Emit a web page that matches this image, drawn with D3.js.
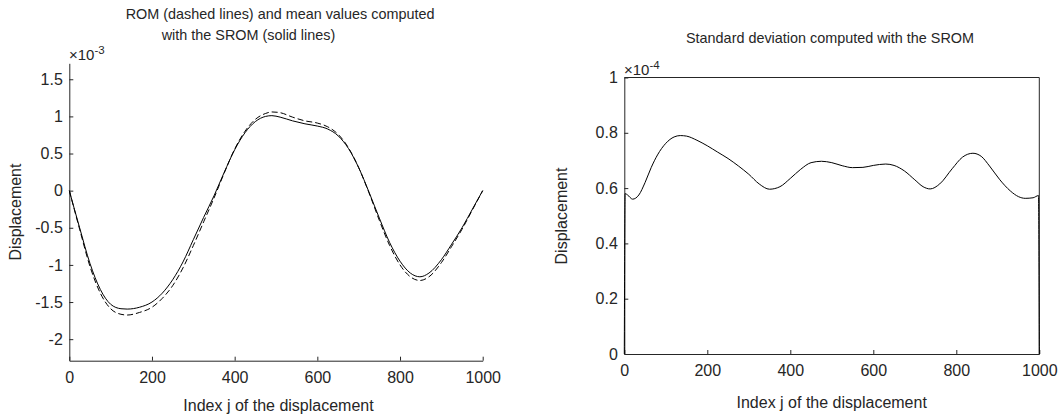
<!DOCTYPE html>
<html><head><meta charset="utf-8">
<script src="https://cdn.jsdelivr.net/npm/d3@7"></script>
<style>
body{margin:0;background:#fff;}
text{font-family:Arial,"Liberation Sans",sans-serif;fill:#262626;}
</style></head>
<body><svg id="c" width="1061" height="415"></svg>
<script>
// ---- data (values in units of 1e-3 for left, 1e-4 for right) ----
const idxMean = [0,25,50,75,100,125,140,170,200,225,250,275,300,325,350,375,400,425,450,475,490,510,540,570,600,625,650,675,700,725,750,775,800,825,848,870,900,925,950,975,1000];
const meanVals = [0,-0.50,-0.98,-1.33,-1.53,-1.59,-1.595,-1.57,-1.50,-1.38,-1.20,-0.96,-0.66,-0.36,-0.07,0.25,0.55,0.78,0.93,1.00,1.01,0.99,0.94,0.90,0.87,0.83,0.74,0.57,0.31,-0.02,-0.37,-0.70,-0.95,-1.11,-1.16,-1.11,-0.93,-0.72,-0.50,-0.25,0];
const romVals  = [0,-0.52,-1.02,-1.38,-1.59,-1.665,-1.675,-1.64,-1.57,-1.45,-1.28,-1.04,-0.74,-0.42,-0.10,0.24,0.56,0.80,0.96,1.04,1.06,1.05,0.99,0.94,0.91,0.86,0.76,0.58,0.31,-0.03,-0.40,-0.74,-1.00,-1.16,-1.21,-1.16,-0.97,-0.75,-0.52,-0.26,0];
const idxStd = [0,2,8,20,35,50,65,80,100,120,135,150,175,200,225,250,275,300,325,350,375,400,425,450,475,500,525,550,575,600,630,650,675,700,720,737,760,790,815,840,860,880,905,930,950,966,985,998,1000];
const stdVals = [0,0.58,0.575,0.56,0.575,0.62,0.675,0.72,0.762,0.785,0.79,0.788,0.773,0.753,0.73,0.707,0.68,0.65,0.615,0.596,0.605,0.635,0.668,0.692,0.697,0.692,0.681,0.674,0.675,0.682,0.687,0.682,0.662,0.63,0.605,0.597,0.615,0.67,0.712,0.726,0.715,0.68,0.63,0.59,0.569,0.563,0.565,0.573,0];
const xTicks = [0,200,400,600,800,1000];
const yTicksL = [-2,-1.5,-1,-0.5,0,0.5,1,1.5];
const yTickLabelsL = ["-2","-1.5","-1","-0.5","0","0.5","1","1.5"];
const yTicksR = [0,0.2,0.4,0.6,0.8,1];
const yTickLabelsR = ["0","0.2","0.4","0.6","0.8","1"];
const titleL1 = "ROM (dashed lines) and mean values computed";
const titleL2 = "with the SROM (solid lines)";
const titleR = "Standard deviation computed with the SROM";
const xLabel = "Index j of the displacement";
const yLabel = "Displacement";

const svg = d3.select("#c");
const axCol = "#262626";
const tickFont = "16px", labFont = "16px", titFont = "14.4px";

function drawAxes(g, x, y, xt, yt, ytl, box){
  const [x0,x1] = x.range(); const [y0,y1] = y.range();
  const xa = d3.axisBottom(x).tickValues(xt).tickSizeInner(-4).tickSizeOuter(0).tickPadding(11).tickFormat(d3.format("d"));
  const gx = g.append("g").attr("transform",`translate(0,${y0})`).call(xa);
  const ya = d3.axisLeft(y).tickValues(yt).tickSizeInner(-4).tickSizeOuter(0).tickPadding(6.5).tickFormat((d,i)=>ytl[i]);
  const gy = g.append("g").attr("transform",`translate(${x0},0)`).call(ya);
  [gx,gy].forEach(a=>{
    a.selectAll("path").attr("stroke",axCol).attr("stroke-width",1);
    a.selectAll("line").attr("stroke",axCol);
    a.selectAll("text").attr("font-size",tickFont).attr("fill",axCol).attr("font-family","Arial, 'Liberation Sans', sans-serif");
  });
  if(box){
    g.append("line").attr("x1",x0).attr("x2",x1).attr("y1",y1).attr("y2",y1).attr("stroke",axCol);
    g.append("line").attr("x1",x1).attr("x2",x1).attr("y1",y1).attr("y2",y0).attr("stroke",axCol);
  }
}

// ---- left plot ----
const xL = d3.scaleLinear().domain([0,1000]).range([69.3,482.7]);
const yL = d3.scaleLinear().domain([-2.29,1.715]).range([360.7,63.3]);
const gL = svg.append("g");
drawAxes(gL,xL,yL,xTicks,yTicksL,yTickLabelsL,false);
const lineL = d3.line().x((d,i)=>xL(idxMean[i])).y(d=>yL(d)).curve(d3.curveMonotoneX);
gL.append("path").datum(romVals).attr("d",lineL).attr("fill","none").attr("stroke","#000").attr("stroke-width",1).attr("stroke-dasharray","6,3");
gL.append("path").datum(meanVals).attr("d",lineL).attr("fill","none").attr("stroke","#000").attr("stroke-width",1);
gL.append("text").attr("x",125.7).attr("y",19).attr("font-size",titFont).text(titleL1);
gL.append("text").attr("x",161.7).attr("y",39.5).attr("font-size",titFont).text(titleL2);
gL.append("text").attr("x",278.5).attr("y",411).attr("text-anchor","middle").attr("font-size",labFont).text(xLabel);
gL.append("text").attr("transform","translate(21,212) rotate(-90)").attr("text-anchor","middle").attr("font-size",labFont).text(yLabel);
const eL = gL.append("text").attr("x",69).attr("y",60).attr("font-size","15px");
eL.append("tspan").text("\u00d710");
eL.append("tspan").attr("dy",-6).attr("font-size","11.5px").text("-3");

// ---- right plot ----
const xR = d3.scaleLinear().domain([0,1000]).range([624.3,1039.3]);
const yR = d3.scaleLinear().domain([0,1]).range([354,77.5]);
const gR = svg.append("g");
drawAxes(gR,xR,yR,xTicks,yTicksR,yTickLabelsR,true);
const lineR = d3.line().x((d,i)=>xR(idxStd[i])).y(d=>yR(d)).curve(d3.curveMonotoneX);
gR.append("path").datum(stdVals).attr("d",lineR).attr("fill","none").attr("stroke","#000").attr("stroke-width",1);
gR.append("text").attr("x",830).attr("y",42.5).attr("text-anchor","middle").attr("font-size",titFont).text(titleR);
gR.append("text").attr("x",831.7).attr("y",408).attr("text-anchor","middle").attr("font-size",labFont).text(xLabel);
gR.append("text").attr("transform","translate(567,216) rotate(-90)").attr("text-anchor","middle").attr("font-size",labFont).text(yLabel);
const eR = gR.append("text").attr("x",624).attr("y",75).attr("font-size","15px");
eR.append("tspan").text("\u00d710");
eR.append("tspan").attr("dy",-6).attr("font-size","11.5px").text("-4");
</script></body></html>
